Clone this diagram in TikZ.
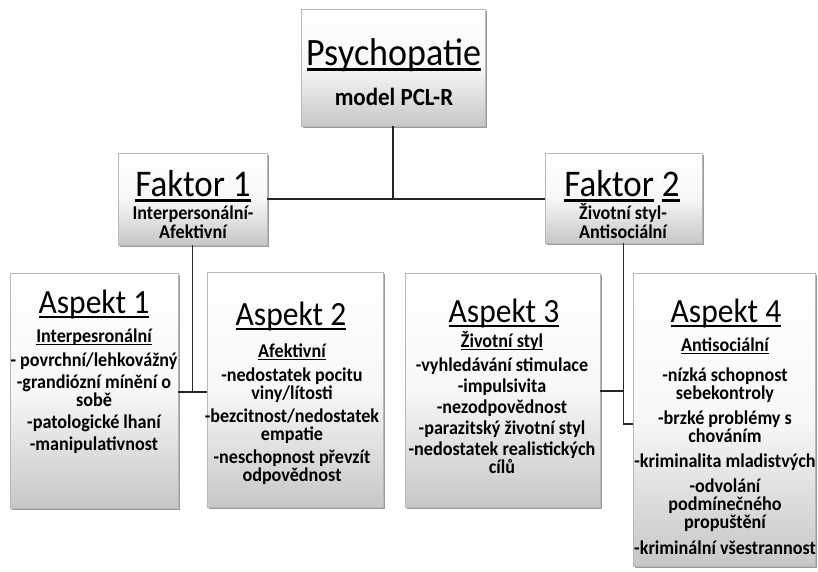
\documentclass[tikz,border=0pt]{standalone}
\usepackage{fontspec}
\setmainfont{Carlito}[FakeStretch=0.93]
\usetikzlibrary{shadows}
\newcommand\ulx[1]{\setbox0\hbox{#1}\leavevmode\rlap{\rule[-0.15em]{\wd0}{0.065em}}\box0\relax}
\newcommand\boxlines[3]{\foreach \yy/\ltext [count=\lnum] in {#3}{\node[itemtxt] (#1\lnum) at (#2,\yy) {\ltext};}}
\begin{document}
\begin{tikzpicture}[x=1pt,y=-1pt,
  boxx/.style={draw=black!28, line width=0.6pt, top color=white, bottom color=black!22, middle color=black!3, inner sep=0pt,
     drop shadow={shadow xshift=2.2pt, shadow yshift=-2.2pt, fill=black!65, opacity=0.6}},
  itemtxt/.style={anchor=base, inner sep=0pt, font=\fontsize{19.5}{20}\selectfont\bfseries},
  titletxt/.style={anchor=base, inner sep=0pt, font=\fontsize{33.9}{34}\selectfont},
  conn/.style={draw=black!85, line width=1.4pt}]
\useasboundingbox (0,0) rectangle (818,571);
% boxes
\node[boxx, minimum width=184pt, minimum height=117pt] (ps) at (393,67.5) {};
\node[boxx, minimum width=149pt, minimum height=92pt] (f1) at (192.5,199) {};
\node[boxx, minimum width=157pt, minimum height=90pt] (f2) at (623.5,198) {};
\node[boxx, minimum width=168pt, minimum height=235pt] (a1) at (94,390.5) {};
\node[boxx, minimum width=176pt, minimum height=235pt] (a2) at (295,389.5) {};
\node[boxx, minimum width=195pt, minimum height=234pt] (a3) at (502.5,390) {};
\node[boxx, minimum width=182pt, minimum height=293pt] (a4) at (724,419.5) {};
% connectors
\coordinate (jt) at (ps.south |- f1.east);
\draw[conn] (ps.south) -- (jt);
\draw[conn] (f1.east) -- (f1.east -| f2.west);
\coordinate (j1) at (192.5,392);
\draw[conn] (f1.south) -- (j1);
\draw[conn] (a1.east |- j1) -- (a2.west |- j1);
\coordinate (j2) at (623.5,391);
\coordinate (j3) at (623.5,424);
\draw[conn] (f2.south) -- (j3) -- (j3 -| a4.west);
\draw[conn] (a3.east |- j2) -- (j2);
% texts
\node[anchor=base, inner sep=0pt, font=\fontsize{38.7}{39}\selectfont] (pst) at (394,65) {\ulx{Psychopatie}};
\node[anchor=base, inner sep=0pt, font=\fontsize{24.7}{25}\selectfont\bfseries] (psm) at (394,105) {model PCL-R};
\node[anchor=base, inner sep=0pt, font=\fontsize{37.6}{38}\selectfont] (f1t) at (193,196) {\ulx{Faktor 1}};
\node[itemtxt] (f1s1) at (193,219) {Interpersonální-};
\node[itemtxt] (f1s2) at (193,238) {Afektivní};
\node[anchor=base, inner sep=0pt, font=\fontsize{37.6}{38}\selectfont] (f2t) at (622,196) {\ulx{Faktor} \ulx{2}};
\node[itemtxt] (f2s1) at (623,219) {Životní styl-};
\node[itemtxt] (f2s2) at (623,238) {Antisociální};
\node[titletxt] (a1t) at (94,313) {\ulx{Aspekt 1}};
\node[titletxt] (a2t) at (291,325) {\ulx{Aspekt 2}};
\node[titletxt] (a3t) at (504,322) {\ulx{Aspekt 3}};
\node[titletxt] (a4t) at (726,322) {\ulx{Aspekt 4}};
\boxlines{a1l}{94}{342/{\ulx{Interpesronální}}, 366/{- povrchní/lehkovážný}, 388/{-grandiózní mínění o}, 406/{sobě}, 428/{-patologické lhaní}, 450/{-manipulativnost}}
\boxlines{a2l}{292}{357/{\ulx{Afektivní}}, 381/{-nedostatek pocitu}, 399/{viny/lítosti}, 422/{-bezcitnost/nedostatek}, 440/{empatie}, 463/{-neschopnost převzít}, 481/{odpovědnost}}
\boxlines{a3l}{502}{347/{\ulx{Životní styl}}, 371/{-vyhledávání stimulace}, 392/{-impulsivita}, 413/{-nezodpovědnost}, 434/{-parazitský životní styl}, 455/{-nedostatek realistických}, 473/{cílů}}
\boxlines{a4l}{725}{351/{\ulx{Antisociální}}, 381/{-nízká schopnost}, 399/{sebekontroly}, 424/{-brzké problémy s}, 442/{chováním}, 467/{-kriminalita mladistvých}, 492/{-odvolání}, 510/{podmínečného}, 528/{propuštění}, 554/{-kriminální všestrannost}}
\end{tikzpicture}
\end{document}
